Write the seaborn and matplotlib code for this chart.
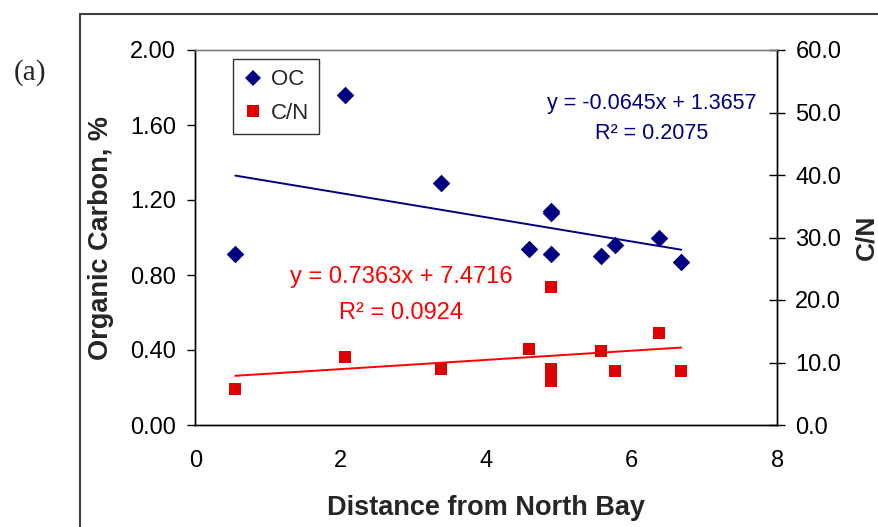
import numpy as np
import matplotlib
matplotlib.use("Agg")
import matplotlib.pyplot as plt
from matplotlib.lines import Line2D
import seaborn as sns

# ---- data ----
distance = [0.55, 2.06, 3.38, 4.59, 4.89, 4.89, 4.89, 5.58, 5.77, 6.38, 6.68]
oc_pct   = [0.91, 1.76, 1.29, 0.94, 1.13, 0.91, 1.14, 0.90, 0.96, 1.00, 0.87]
cn_ratio = [5.8, 10.9, 9.0, 12.2, 22.1, 9.0, 7.1, 11.9, 8.7, 14.8, 8.7]

oc_fit = [-0.0645, 1.3657]   # slope, intercept
cn_fit = [0.7363, 7.4716]
oc_r2 = 0.2075
cn_r2 = 0.0924

x_ticks = [0, 2, 4, 6, 8]
oc_ticks = [0.0, 0.4, 0.8, 1.2, 1.6, 2.0]
cn_ticks = [0, 10, 20, 30, 40, 50, 60]

NAVY = "#000080"
RED_M = "#E00000"
RED_L = "#FF0000"

sns.set_style("white")
plt.rcParams["font.family"] = ["Liberation Sans", "DejaVu Sans"]

W, H = 879, 527
fig = plt.figure(figsize=(W / 100, H / 100), dpi=100)
L, R, T, B = 195.3, 777.3, 50, 425
ax = fig.add_axes([L / W, 1 - B / H, (R - L) / W, (B - T) / H])
ax2 = ax.twinx()

# scatter
sns.scatterplot(x=distance, y=oc_pct, marker="D", s=80, color=NAVY,
                edgecolor=NAVY, linewidth=0, ax=ax, legend=False, zorder=3)
sns.scatterplot(x=distance, y=cn_ratio, marker="s", s=75, color=RED_M,
                edgecolor=RED_M, linewidth=0, ax=ax2, legend=False, zorder=3)

# trendlines over the data range
xr = np.array([min(distance), max(distance)])
sns.lineplot(x=xr, y=oc_fit[0] * xr + oc_fit[1], color=NAVY, lw=1.4, ax=ax, zorder=2)
sns.lineplot(x=xr, y=cn_fit[0] * xr + cn_fit[1], color=RED_L, lw=1.4, ax=ax2, zorder=2)

ax.set_xlim(0, 8)
ax.set_ylim(0, 2)
ax2.set_ylim(0, 60)
ax.set_xticks(x_ticks)
ax.set_xticklabels([str(v) for v in x_ticks])
ax.set_yticks(oc_ticks)
ax.set_yticklabels([f"{v:.2f}" for v in oc_ticks])
ax2.set_yticks(cn_ticks)
ax2.set_yticklabels([f"{v:.1f}" for v in cn_ticks])

ax.tick_params(axis="x", direction="out", length=6, width=1, pad=12,
               labelsize=17, colors="black")
ax.tick_params(axis="y", direction="out", length=6, width=1, pad=8,
               labelsize=17, colors="black")
ax2.tick_params(axis="y", direction="inout", length=12, width=1, pad=7,
                labelsize=17, colors="black")

for a in (ax, ax2):
    for s in a.spines.values():
        s.set_color("black")
        s.set_linewidth(1)
    a.spines["top"].set_color("#808080")
    a.grid(False)

ax.set_xlabel("")
ax.set_ylabel("")
ax2.set_ylabel("")

# axis labels
fig.text(101.5 / W, 1 - 237.5 / H, "Organic Carbon, %", rotation=90,
         ha="center", va="center", fontsize=19.5, fontweight="bold")
fig.text(866 / W, 1 - 237.5 / H, "C/N", rotation=90,
         ha="center", va="center", fontsize=19, fontweight="bold")
fig.text(486 / W, 1 - 508 / H, "Distance from North Bay",
         ha="center", va="center", fontsize=19.5, fontweight="bold")

# panel label
fig.text(30 / W, 1 - 73 / H, "(a)", ha="center", va="center", fontsize=21,
         family=["Liberation Serif", "DejaVu Serif"])

# equations
fig.text(652 / W, 1 - 103 / H, f"y = {oc_fit[0]:.4f}x + {oc_fit[1]:.4f}",
         ha="center", va="center", fontsize=15.5, color=NAVY)
fig.text(652 / W, 1 - 133 / H, f"R² = {oc_r2:.4f}",
         ha="center", va="center", fontsize=15.5, color=NAVY)
fig.text(401 / W, 1 - 277 / H, f"y = {cn_fit[0]:.4f}x + {cn_fit[1]:.4f}",
         ha="center", va="center", fontsize=17, color=RED_L)
fig.text(401 / W, 1 - 313 / H, f"R² = {cn_r2:.4f}",
         ha="center", va="center", fontsize=17, color=RED_L)

# legend
handles = [Line2D([], [], marker="D", ls="none", color=NAVY, markersize=8.5, markeredgewidth=0),
           Line2D([], [], marker="s", ls="none", color=RED_M, markersize=8.5, markeredgewidth=0)]
leg = ax2.legend(handles, ["OC", "C/N"], loc="upper left",
                 bbox_to_anchor=((233.3 - L) / (R - L), 1 - (59.3 - T) / (B - T)),
                 frameon=True, fancybox=False, edgecolor="black", fontsize=16,
                 handlelength=0.9, handletextpad=0.35, borderpad=0.45,
                 labelspacing=0.55, borderaxespad=0)
leg.get_frame().set_linewidth(1)

# outer frame lines
fig.add_artist(Line2D([80 / W, 80 / W], [0, 1 - 14 / H], color="#404040", lw=1.5))
fig.add_artist(Line2D([80 / W, 1], [1 - 14 / H, 1 - 14 / H], color="#404040", lw=1.5))

fig.savefig("out.png", dpi=100)
